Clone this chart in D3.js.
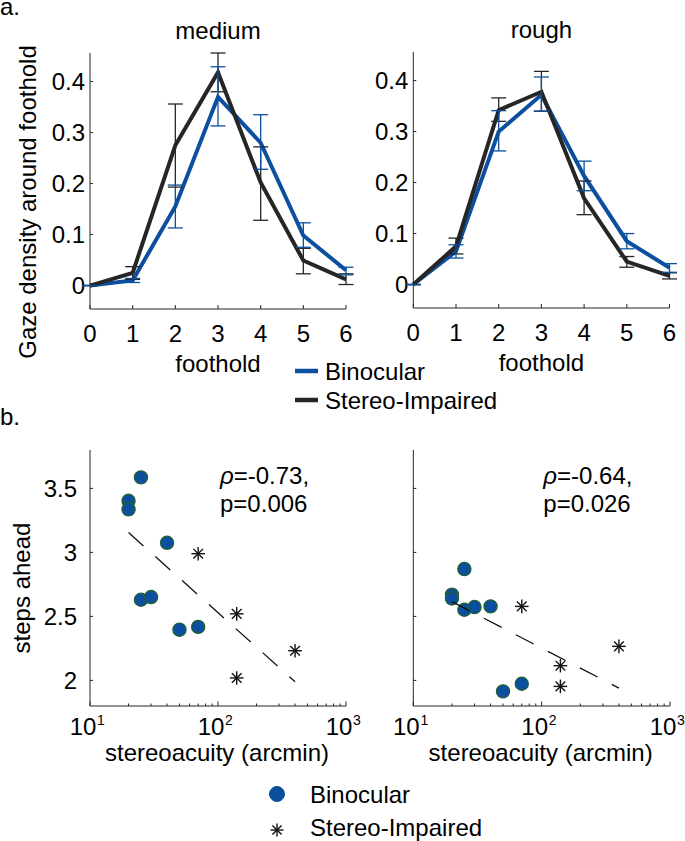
<!DOCTYPE html>
<html>
<head>
<meta charset="utf-8">
<script src="https://cdn.jsdelivr.net/npm/d3@7/dist/d3.min.js"></script>
<style>
  html, body { margin: 0; padding: 0; background: #fff; }
  text { font-family: "Liberation Sans", Arial, Helvetica, sans-serif; fill: #000; }
</style>
</head>
<body>
<svg id="chart" width="685" height="841"></svg>
<script>
// ---------- DATA ----------
const footholds = [0, 1, 2, 3, 4, 5, 6];
const footTicks = [0, 1, 2, 3, 4, 5, 6];
const densityTicks = [0, 0.1, 0.2, 0.3, 0.4];
const densityTickLabels = ["0", "0.1", "0.2", "0.3", "0.4"];

// medium terrain
const medBino    = [0, 0.010, 0.155, 0.370, 0.280, 0.098, 0.030];
const medBinoLo  = [0, 0.006, 0.113, 0.313, 0.228, 0.075, 0.021];
const medBinoHi  = [0, 0.014, 0.197, 0.429, 0.335, 0.123, 0.036];
const medStereo   = [0, 0.025, 0.275, 0.418, 0.202, 0.049, 0.012];
const medStereoLo = [0, 0.012, 0.193, 0.380, 0.128, 0.023, 0.002];
const medStereoHi = [0, 0.037, 0.356, 0.456, 0.272, 0.073, 0.023];

// rough terrain
const roughBino    = [0, 0.065, 0.300, 0.372, 0.213, 0.085, 0.033];
const roughBinoLo  = [0, 0.052, 0.262, 0.340, 0.184, 0.070, 0.024];
const roughBinoHi  = [0, 0.078, 0.341, 0.407, 0.242, 0.100, 0.041];
const roughStereo   = [0, 0.075, 0.342, 0.378, 0.169, 0.045, 0.017];
const roughStereoLo = [0, 0.060, 0.320, 0.340, 0.137, 0.034, 0.011];
const roughStereoHi = [0, 0.091, 0.366, 0.418, 0.203, 0.055, 0.023];

// panel b: stereoacuity (arcmin) vs steps ahead
const binoAcuity   = [25, 20, 20, 40, 25, 30, 50, 70];
const binoStepsL   = [3.586, 3.403, 3.336, 3.075, 2.630, 2.651, 2.396, 2.418];
const binoStepsR   = [2.870, 2.670, 2.640, 2.578, 2.552, 2.573, 1.914, 1.974];
const stereoAcuity = [70, 140, 400, 140];
const stereoStepsL = [2.990, 2.520, 2.232, 2.019];
const stereoStepsR = [2.578, 2.115, 2.266, 1.953];
const fitX  = [20, 400];
const fitYL = [3.155, 1.990];
const fitYR = [2.615, 1.940];
const stepsTicks = [2, 2.5, 3, 3.5];
const stepsTickLabels = ["2", "2.5", "3", "3.5"];
const acuityMajor = [10, 100, 1000];
const acuityExp = ["1", "2", "3"];
const statsL = ["=-0.73,", "p=0.006"];
const statsR = ["=-0.64,", "p=0.026"];

const seriesNames = ["Binocular", "Stereo-Impaired"];
const BLUE = "#0b4f9e";
const DARK = "#262626";
const FS = 24;

// ---------- DRAW ----------
const svg = d3.select("#chart");

function densityPanel(x0, x1, yb, yt, title, bino, bLo, bHi, ster, sLo, sHi) {
  const x = d3.scaleLinear().domain([0, 6]).range([x0, x1]);
  const y = d3.scaleLinear().domain([-0.046, 0.456]).range([yb, yt]);
  const g = svg.append("g");
  // axes
  g.append("line").attr("x1", x0).attr("x2", x0).attr("y1", yb).attr("y2", yt)
    .attr("stroke", DARK).attr("stroke-width", 1);
  g.append("line").attr("x1", x0).attr("x2", x1).attr("y1", yb).attr("y2", yb)
    .attr("stroke", DARK).attr("stroke-width", 1);
  footTicks.forEach(t => {
    g.append("line").attr("x1", x(t)).attr("x2", x(t)).attr("y1", yb).attr("y2", yb - 4)
      .attr("stroke", DARK).attr("stroke-width", 1);
    g.append("text").attr("x", x(t)).attr("y", yb + 33).attr("text-anchor", "middle")
      .attr("font-size", FS).text(t);
  });
  densityTicks.forEach((t, i) => {
    g.append("line").attr("x1", x0).attr("x2", x0 + 3).attr("y1", y(t)).attr("y2", y(t))
      .attr("stroke", DARK).attr("stroke-width", 1);
    g.append("text").attr("x", x0 - 5).attr("y", y(t)).attr("dy", "0.36em")
      .attr("text-anchor", "end").attr("font-size", FS).text(densityTickLabels[i]);
  });
  g.append("text").attr("x", (x0 + x1) / 2).attr("y", yt - 14).attr("text-anchor", "middle")
    .attr("font-size", FS).text(title);
  g.append("text").attr("x", (x0 + x1) / 2).attr("y", yb + 63).attr("text-anchor", "middle")
    .attr("font-size", FS).text("foothold");

  const line = d3.line().x((d, i) => x(footholds[i])).y(d => y(d));
  g.append("path").datum(bino).attr("d", line).attr("fill", "none")
    .attr("stroke", BLUE).attr("stroke-width", 4).attr("stroke-linejoin", "miter");
  g.append("path").datum(ster).attr("d", line).attr("fill", "none")
    .attr("stroke", DARK).attr("stroke-width", 4).attr("stroke-linejoin", "miter");

  function errbars(lo, hi, color) {
    footholds.forEach((f, i) => {
      const cx = x(f);
      g.append("line").attr("x1", cx).attr("x2", cx).attr("y1", y(lo[i])).attr("y2", y(hi[i]))
        .attr("stroke", color).attr("stroke-width", 1.3);
      [lo[i], hi[i]].forEach(v => {
        g.append("line").attr("x1", cx - 7.5).attr("x2", cx + 7.5).attr("y1", y(v)).attr("y2", y(v))
          .attr("stroke", color).attr("stroke-width", 1.3);
      });
    });
  }
  errbars(sLo, sHi, DARK);
  errbars(bLo, bHi, BLUE);
}

densityPanel(90, 346, 309, 53, "medium", medBino, medBinoLo, medBinoHi, medStereo, medStereoLo, medStereoHi);
densityPanel(413.3, 669.5, 308, 52, "rough", roughBino, roughBinoLo, roughBinoHi, roughStereo, roughStereoLo, roughStereoHi);

svg.append("text").attr("transform", "translate(36,202) rotate(-90)").attr("text-anchor", "middle")
  .attr("font-size", FS).text("Gaze density around foothold");
svg.append("text").attr("x", 0).attr("y", 15).attr("font-size", FS).text("a.");
svg.append("text").attr("x", 0).attr("y", 425).attr("font-size", FS).text("b.");

// top legend
[BLUE, DARK].forEach((c, i) => {
  const ly = 371 + i * 29;
  svg.append("line").attr("x1", 295).attr("x2", 318).attr("y1", ly).attr("y2", ly)
    .attr("stroke", c).attr("stroke-width", 4.5);
  svg.append("text").attr("x", 325).attr("y", ly).attr("dy", "0.36em").attr("font-size", FS)
    .text(seriesNames[i]);
});

// ---------- panel b ----------
function asterisk(g, cx, cy, r) {
  const d = r * Math.SQRT1_2;
  const segs = [[-r, 0, r, 0], [0, -r, 0, r], [-d, -d, d, d], [-d, d, d, -d]];
  segs.forEach(s => g.append("line")
    .attr("x1", cx + s[0]).attr("y1", cy + s[1]).attr("x2", cx + s[2]).attr("y2", cy + s[3])
    .attr("stroke", "#111").attr("stroke-width", 1.4));
}

function scatterPanel(x0, x1, yb, yt, bSteps, sSteps, fitY, stats, showYLabels) {
  const x = d3.scaleLog().domain([10, 1000]).range([x0, x1]);
  const y = d3.scaleLinear().domain([1.8, 3.8]).range([yb, yt]);
  const g = svg.append("g");
  g.append("line").attr("x1", x0).attr("x2", x0).attr("y1", yb).attr("y2", yt)
    .attr("stroke", DARK).attr("stroke-width", 1);
  g.append("line").attr("x1", x0).attr("x2", x1).attr("y1", yb).attr("y2", yb)
    .attr("stroke", DARK).attr("stroke-width", 1);
  // minor ticks
  const minor = [];
  [10, 100].forEach(b => { for (let k = 2; k <= 9; k++) minor.push(b * k); });
  minor.forEach(t => g.append("line").attr("x1", x(t)).attr("x2", x(t)).attr("y1", yb).attr("y2", yb - 2.5)
    .attr("stroke", DARK).attr("stroke-width", 1));
  acuityMajor.forEach((t, i) => {
    g.append("line").attr("x1", x(t)).attr("x2", x(t)).attr("y1", yb).attr("y2", yb - 4.5)
      .attr("stroke", DARK).attr("stroke-width", 1);
    g.append("text").attr("x", x(t) - 7).attr("y", yb + 29).attr("text-anchor", "middle")
      .attr("font-size", FS).text("10");
    g.append("text").attr("x", x(t) + 11).attr("y", yb + 19).attr("text-anchor", "middle")
      .attr("font-size", 14).text(acuityExp[i]);
  });
  stepsTicks.forEach((t, i) => {
    g.append("line").attr("x1", x0).attr("x2", x0 + 3).attr("y1", y(t)).attr("y2", y(t))
      .attr("stroke", DARK).attr("stroke-width", 1);
    if (showYLabels) {
      g.append("text").attr("x", x0 - 13).attr("y", y(t)).attr("dy", "0.36em")
        .attr("text-anchor", "end").attr("font-size", FS).text(stepsTickLabels[i]);
    }
  });
  g.append("text").attr("x", (x0 + x1) / 2 - 1).attr("y", yb + 55).attr("text-anchor", "middle")
    .attr("font-size", FS).text("stereoacuity (arcmin)");

  // points
  binoAcuity.forEach((a, i) => {
    g.append("circle").attr("cx", x(a)).attr("cy", y(bSteps[i])).attr("r", 6.6)
      .attr("fill", BLUE).attr("stroke", "#22602e").attr("stroke-width", 1.2);
  });
  stereoAcuity.forEach((a, i) => asterisk(g, x(a), y(sSteps[i]), 6.8));

  // regression
  g.append("path").datum(fitX.map((v, i) => [v, fitY[i]]))
    .attr("d", d3.line().x(d => x(d[0])).y(d => y(d[1])))
    .attr("fill", "none").attr("stroke", "#111").attr("stroke-width", 1.3)
    .attr("stroke-dasharray", "20,16");

  // stats
  const st = g.append("text").attr("x", x0 + 130).attr("y", yt + 34).attr("font-size", FS);
  st.append("tspan").attr("font-style", "italic").text("\u03C1");
  st.append("tspan").text(stats[0]);
  g.append("text").attr("x", x0 + 130).attr("y", yt + 62).attr("font-size", FS).text(stats[1]);
}

scatterPanel(90, 346, 706, 450, binoStepsL, stereoStepsL, fitYL, statsL, true);
scatterPanel(413.3, 670, 706, 450, binoStepsR, stereoStepsR, fitYR, statsR, false);

svg.append("text").attr("transform", "translate(30,588) rotate(-90)").attr("text-anchor", "middle")
  .attr("font-size", FS).text("steps ahead");

// bottom legend
const lg = svg.append("g");
lg.append("circle").attr("cx", 277).attr("cy", 794).attr("r", 7.5).attr("fill", BLUE)
  .attr("stroke", BLUE).attr("stroke-width", 1);
lg.append("text").attr("x", 310).attr("y", 802.5).attr("font-size", FS).text(seriesNames[0]);
asterisk(lg, 277, 830, 6.5);
lg.append("text").attr("x", 310).attr("y", 836).attr("font-size", FS).text(seriesNames[1]);
</script>
</body>
</html>
